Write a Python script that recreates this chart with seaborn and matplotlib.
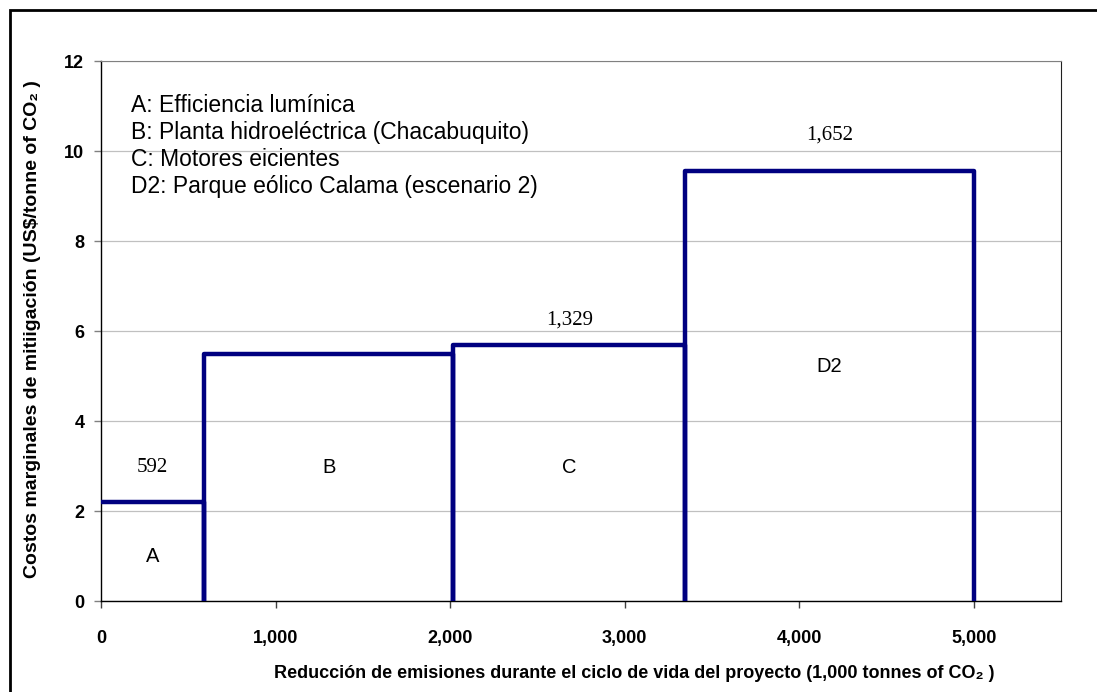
import numpy as np
import matplotlib
matplotlib.use('Agg')
import matplotlib.pyplot as plt
import seaborn as sns
from matplotlib.patches import Rectangle

# Project data (width = emission reduction, height = marginal cost)
projects = ['A', 'B', 'C', 'D2']
widths = [592, 1427, 1329, 1652]
costs = [2.2, 5.5, 5.7, 9.55]
width_labels = ['592', None, '1,329', '1,652']
legend_lines = ['A: Efficiencia lumínica',
                'B: Planta hidroeléctrica (Chacabuquito)',
                'C: Motores eicientes',
                'D2: Parque eólico Calama (escenario 2)']
x_ticks = [0, 1000, 2000, 3000, 4000, 5000]
y_ticks = [0, 2, 4, 6, 8, 10, 12]

sns.set_style('white')
plt.rcParams['font.family'] = ['Liberation Sans', 'DejaVu Sans']
plt.rcParams.update({'text.color': 'black', 'axes.labelcolor': 'black',
                     'xtick.color': 'black', 'ytick.color': 'black'})

# Build the stepped outline from the bars
edges = np.concatenate([[0], np.cumsum(widths)])
xs, ys = [], []
for i, (x0, x1, h) in enumerate(zip(edges[:-1], edges[1:], costs)):
    if i > 0:
        xs.append(x0); ys.append(0)
    xs += [x0, x1, x1]
    ys += [h, h, 0]

fig = plt.figure(figsize=(10.97, 6.92), dpi=100)
ax = fig.add_axes([101 / 1097, 91 / 692, 960 / 1097, 540 / 692])

ax.yaxis.grid(True, color='#c0c0c0', linewidth=0.9)
ax.set_axisbelow(True)
sns.lineplot(x=xs, y=ys, sort=False, estimator=None, color='#000080',
             linewidth=3.2, ax=ax, zorder=3)

ax.set_xlim(0, 5500)
ax.set_ylim(0, 12)
ax.set_xticks(x_ticks)
ax.set_xticklabels([f'{v:,}' for v in x_ticks], fontweight='bold', fontsize=13)
ax.set_yticks(y_ticks)
ax.set_yticklabels([str(v) for v in y_ticks], fontweight='bold', fontsize=13)
ax.tick_params(axis='x', direction='out', length=5, width=1, color='#404040', pad=16, bottom=True)
ax.tick_params(axis='y', direction='out', length=5, width=1, color='#808080', pad=7, left=True)

for side in ['left', 'bottom']:
    ax.spines[side].set_color('black')
    ax.spines[side].set_linewidth(1)
ax.spines['top'].set_color('#808080')
ax.spines['right'].set_color('#202020')

# Bar annotations
centers = (edges[:-1] + edges[1:]) / 2
inner_y = [1.0, 2.97, 2.97, 5.2]
for name, cx, yy in zip(projects, centers, inner_y):
    ax.text(cx, yy, name, ha='center', va='center', fontsize=14.5)
above_y = [2.97, None, 6.25, 10.35]
for lab, cx, yy in zip(width_labels, centers, above_y):
    if lab:
        ax.text(cx, yy, lab, ha='center', va='center', fontsize=15,
                fontfamily='Liberation Serif')

for i, line in enumerate(legend_lines):
    ax.text(0.031, 0.918 - i * 0.05, line, transform=ax.transAxes,
            ha='left', va='center', fontsize=16.5)

fig.text(33 / 1097, (692 - 329) / 692,
         'Costos marginales de mitiigación (US$/tonne of CO₂ )',
         rotation=90, ha='center', va='center', fontweight='bold', fontsize=14)
fig.text(634 / 1097, 19 / 692,
         'Reducción de emisiones durante el ciclo de vida del proyecto (1,000 tonnes of CO₂ )',
         ha='center', va='center', fontweight='bold', fontsize=13)

# Outer frame
fig.patches.append(Rectangle((10 / 1097, -0.1), 1.2, 1.1 - 10 / 692,
                             transform=fig.transFigure, fill=False,
                             edgecolor='black', linewidth=2))

fig.savefig('out.png', dpi=100)
